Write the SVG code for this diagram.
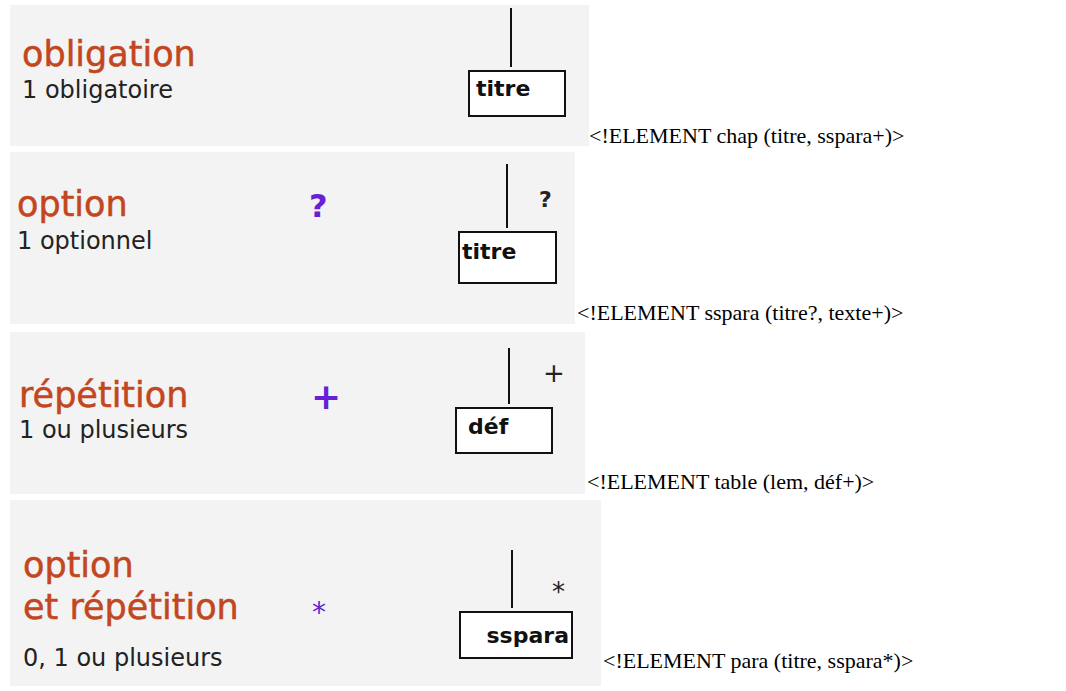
<svg xmlns="http://www.w3.org/2000/svg" width="1066" height="691" viewBox="0 0 1066 691">
<style>
.bg{fill:#f3f3f3}
.h{font-family:"DejaVu Sans",Verdana,sans-serif;font-size:35px;fill:#c2461e;stroke:#c2461e;stroke-width:0.5}
.s{font-family:"DejaVu Sans",Verdana,sans-serif;font-size:24px;fill:#222}
.sym{font-family:"DejaVu Sans",Verdana,sans-serif;fill:#6422d4}
.box{fill:#fff;stroke:#111;stroke-width:2}
.lbl{font-family:"DejaVu Sans",Verdana,sans-serif;font-weight:bold;font-size:22px;fill:#111}
.card{font-family:"DejaVu Sans",Verdana,sans-serif;fill:#222}
.dtd{font-family:"Liberation Serif","Times New Roman",serif;font-size:22px;fill:#000}
.conn line{stroke:#111;stroke-width:2}
</style>
<g id="panel1">
<rect class="bg" x="10" y="5" width="579" height="141"/>
<text class="h" x="22" y="66">obligation</text>
<text class="s" x="22" y="98">1 obligatoire</text>
</g>
<g id="panel2">
<rect class="bg" x="10" y="152" width="565" height="172"/>
<text class="h" x="17" y="216">option</text>
<text class="s" x="17" y="249">1 optionnel</text>
<text class="sym" x="309" y="217" font-size="32" font-weight="bold">?</text>
<text class="card" x="539" y="207" font-size="22" font-weight="bold">?</text>
</g>
<g id="panel3">
<rect class="bg" x="10" y="332" width="575" height="162"/>
<text class="h" x="19" y="407">répétition</text>
<text class="s" x="19" y="438">1 ou plusieurs</text>
<text class="sym" x="311" y="409" font-size="36" font-weight="bold">+</text>
<text class="card" x="543" y="382" font-size="26">+</text>
</g>
<g id="panel4">
<rect class="bg" x="10" y="500" width="591" height="186"/>
<text class="h" x="23" y="577">option</text>
<text class="h" x="23" y="619">et répétition</text>
<text class="s" x="23" y="666">0, 1 ou plusieurs</text>
<text class="sym" x="312" y="622" font-size="28">*</text>
<text class="card" x="552" y="601" font-size="26">*</text>
</g>
<g id="node-titre1">
<rect class="box" x="469" y="71" width="96" height="45"/>
<text class="lbl" x="476" y="96">titre</text>
</g>
<g id="node-titre2">
<rect class="box" x="459" y="232" width="97" height="51"/>
<text class="lbl" x="462" y="259">titre</text>
</g>
<g id="node-def">
<rect class="box" x="456" y="408" width="96" height="45"/>
<text class="lbl" x="468" y="434">déf</text>
</g>
<g id="node-sspara">
<rect class="box" x="460" y="612" width="112" height="46"/>
<text class="lbl" x="569" y="643" text-anchor="end">sspara</text>
</g>
<g id="connectors" class="conn">
<line x1="511" y1="8" x2="511" y2="67"/>
<line x1="507" y1="164" x2="507" y2="228"/>
<line x1="509" y1="348" x2="509" y2="404"/>
<line x1="512" y1="550" x2="512" y2="608"/>
</g>
<g id="dtd">
<text class="dtd" x="589" y="143">&lt;!ELEMENT chap (titre, sspara+)&gt;</text>
<text class="dtd" x="577" y="320">&lt;!ELEMENT sspara (titre?, texte+)&gt;</text>
<text class="dtd" x="587" y="489">&lt;!ELEMENT table (lem, déf+)&gt;</text>
<text class="dtd" x="603" y="668">&lt;!ELEMENT para (titre, sspara*)&gt;</text>
</g>
</svg>
